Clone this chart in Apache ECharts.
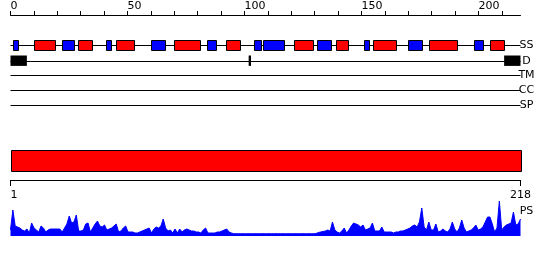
<!DOCTYPE html>
<html><head><meta charset="utf-8">
<script src="https://cdn.jsdelivr.net/npm/echarts@6/dist/echarts.min.js"></script>
<style>html,body{margin:0;padding:0;background:#fff}#c{width:550px;height:260px}</style>
</head><body><div id="c"></div>
<script>
// ---- data ----
const seqLength = 218;
const topTickValues = [0,10,20,30,40,50,60,70,80,90,100,110,120,130,140,150,160,170,180,190,200,210];
const topTickLabels = [0,50,100,150,200];
const bottomTickLabels = [1,218];
const trackNames = ['SS','D','TM','CC','SP'];
const ssStart = [1,10,22,29,41,45,60,70,84,92,104,108,121,131,139,151,155,170,179,198,205];
const ssEnd   = [3,19,27,35,43,52.5,66,81,88,98,107,117,129,137,144,153,165,176,191,202,211];
const ssType  = ['E','H','E','H','E','H','E','H','E','H','E','E','H','E','H','E','H','E','H','E','H'];
const disorderStart = [0,101.8,211];
const disorderEnd   = [7,102.8,218];
const domainStart = [0];
const domainEnd = [218];
const psName = 'PS';
const psValues = [
 6,26,10,9,8,6,5,7,3,13,
 8,6,4,10,8,4,6,7,7,7,
 7,7,4,8,12,20,13,14,21,5,
 5,6,12,13,4,8,12,15,10,9,
 11,6,7,8,10,12,4,5,8,10,
 4,4,4,3,3,4,5,6,7,8,
 3,7,9,8,10,17,8,5,6,3,
 7,3,7,4,6,7,6,5,5,4,
 4,3,6,8,3,3,3,3,4,4,
 5,6,7,4,3,2.3,2.3,2.3,2.3,2.3,
 2.3,2.3,2.3,2.3,2.3,2.3,2.3,2.3,2.3,2.3,
 2.3,2.3,2.3,2.3,2.3,2.3,2.3,2.3,2.3,2.3,
 2.3,2.3,2.3,2.3,2.3,2.3,2.3,2.3,2.3,2.3,
 2.5,3.5,4,4.5,5,6,5,14,6,4,
 3,5,8,3,6,10,13,12,11,9,
 11,6,7,8,13,5,5,5,9,4,
 4,4,4,3,4,4,5,5,6,7,
 8,10,11,9,14,28,9,6,14,6,
 6,12,4,5,7,5,4,7,14,7,
 4,8,16,8,4,5,6,8,11,6,
 7,9,14,19,19,12,4,8,35,6,
 9,11,12,13,24,11,12,17
];

// ---- layout (style, not data) ----
const FONT = 'DejaVu Sans';
const trackY = {SS:30, D:45.7, TM:60, CC:75, SP:90};
const boxHalf = 5.2;
const domainTop = 135, domainBottom = 155.7;
const labelDX = 6;

const chart = echarts.init(document.getElementById('c'), null, {renderer:'canvas'});

function trackLines(params, api){
  const name = trackNames[params.dataIndex];
  const y = trackY[name];
  const p0 = api.coord([0, y]);
  const p1 = api.coord([seqLength, y]);
  const yy = Math.round(p0[1]) + 0.5;
  return {type:'group', children:[
    {type:'line', shape:{x1:p0[0], y1:yy, x2:p1[0], y2:yy}, style:{stroke:'#000', lineWidth:1}},
    {type:'text', style:{text:name, x:p1[0]+labelDX, y:p1[1], align:'center', verticalAlign:'middle', font:'11px "'+FONT+'"', fill:'#000'}}
  ]};
}
function ssBoxes(params, api){
  const s = api.value(0), e = api.value(1);
  const t = ssType[params.dataIndex];
  const a = api.coord([s, trackY.SS - boxHalf]);
  const b = api.coord([e, trackY.SS + boxHalf]);
  return {type:'rect', shape:{x:Math.round(a[0])+0.5, y:Math.round(a[1])+0.5, width:Math.round(b[0]-a[0]), height:Math.round(b[1]-a[1])},
    style:{fill: t==='H' ? '#ff0000' : '#0000ff', stroke:'#000', lineWidth:1}};
}
function disorderBoxes(params, api){
  const s = api.value(0), e = api.value(1);
  const a = api.coord([s, trackY.D - boxHalf]);
  const b = api.coord([e, trackY.D + boxHalf]);
  return {type:'rect', shape:{x:a[0], y:a[1], width:Math.max(1.5,b[0]-a[0]), height:b[1]-a[1]},
    style:{fill:'#000'}};
}
function domainBars(params, api){
  const s = api.value(0), e = api.value(1);
  const a = api.coord([s, domainTop]);
  const b = api.coord([e, domainBottom]);
  return {type:'rect', shape:{x:Math.round(a[0])+0.5, y:Math.round(a[1])+0.5, width:Math.round(b[0]-a[0]), height:Math.round(b[1]-a[1])},
    style:{fill:'#ff0000', stroke:'#000', lineWidth:1}};
}
function psLabel(params, api){
  const p = api.coord([seqLength, 24.5]);
  return {type:'text', style:{text:psName, x:p[0]+labelDX, y:p[1], align:'center', verticalAlign:'middle', font:'11px "'+FONT+'"', fill:'#000'}};
}

const option = {
  animation:false,
  backgroundColor:'#fff',
  textStyle:{fontFamily:FONT},
  grid:[
    {left:10.5, width:510, top:15, height:165},
    {left:10.5, width:510, top:200, height:36}
  ],
  xAxis:[
    {gridIndex:0, type:'value', position:'top', min:0, max:seqLength,
     axisLine:{show:true, lineStyle:{color:'#000', width:1}},
     axisTick:{show:true, length:4, lineStyle:{color:'#000'}, customValues:topTickValues},
     axisLabel:{show:true, customValues:topTickLabels, align:'left', margin:3, color:'#000', fontSize:11, fontFamily:FONT},
     splitLine:{show:false}},
    {gridIndex:0, type:'value', position:'bottom', min:1, max:seqLength,
     axisLine:{show:true, lineStyle:{color:'#000', width:1}},
     axisTick:{show:true, length:6, lineStyle:{color:'#000'}, customValues:bottomTickLabels},
     axisLabel:{show:true, customValues:bottomTickLabels, margin:10, color:'#000', fontSize:11, fontFamily:FONT, alignMinLabel:'left', alignMaxLabel:'center'},
     splitLine:{show:false}},
    {gridIndex:1, type:'value', min:1, max:seqLength, show:false}
  ],
  yAxis:[
    {gridIndex:0, type:'value', min:0, max:165, inverse:true, show:false},
    {gridIndex:1, type:'value', min:0, max:36, show:false}
  ],
  series:[
    {type:'custom', xAxisIndex:0, yAxisIndex:0, renderItem:trackLines, data:trackNames.map((n,i)=>[i]), clip:false, silent:true},
    {type:'custom', xAxisIndex:0, yAxisIndex:0, renderItem:disorderBoxes, data:disorderStart.map((s,i)=>[s, disorderEnd[i]]), clip:false, silent:true},
    {type:'custom', xAxisIndex:0, yAxisIndex:0, renderItem:ssBoxes, data:ssStart.map((s,i)=>[s, ssEnd[i]]), clip:false, silent:true},
    {type:'custom', xAxisIndex:0, yAxisIndex:0, renderItem:domainBars, data:domainStart.map((s,i)=>[s, domainEnd[i]]), clip:false, silent:true},
    {type:'line', xAxisIndex:2, yAxisIndex:1, data:psValues.map((v,i)=>[i+1, v]), showSymbol:false, symbol:'none',
     lineStyle:{color:'#0000ff', width:1}, areaStyle:{color:'#0000ff', opacity:1}, silent:true},
    {type:'custom', xAxisIndex:2, yAxisIndex:1, renderItem:psLabel, data:[[0]], clip:false, silent:true}
  ]
};
chart.setOption(option);
</script>
</body></html>
